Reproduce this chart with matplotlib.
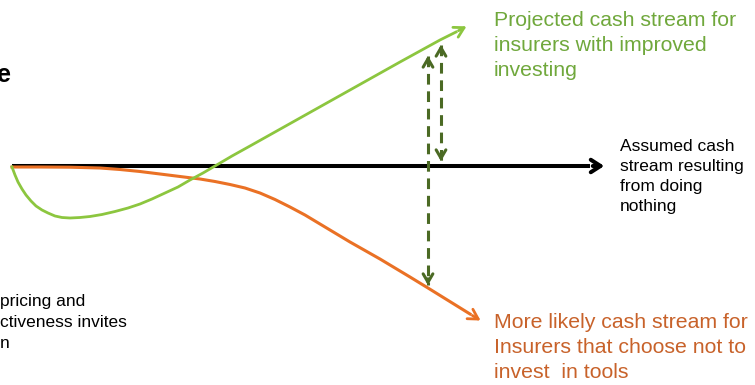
import matplotlib.pyplot as plt

plt.rcParams['font.family'] = ['Liberation Sans', 'DejaVu Sans']

# cash stream curves, x = time, y = screen-style position (down = worse)
improved_x = [12, 15, 18, 22, 26, 31, 36, 42, 48, 55, 62, 70, 80, 90, 102, 115, 128,
              140, 152, 165, 178, 190, 203, 215, 232, 250, 300, 350, 400, 440, 456]
improved_y = [167, 175, 182, 189, 195, 201, 206, 210, 213, 216, 217.5, 218, 217.5, 216.5,
              214.5, 211.5, 208, 204, 199, 193, 187, 180, 173, 166, 156, 146, 118, 90,
              62, 40, 32]
improved_tip = (469, 25)

no_invest_x = [12, 40, 70, 100, 120, 140, 160, 180, 200, 215, 230, 245, 260, 275, 290,
               305, 320, 335, 350, 365, 380, 395, 410, 428, 470]
no_invest_y = [167, 167, 167.2, 168, 169.5, 171.5, 174, 176.5, 179, 181.5, 184.5, 188,
               193, 199.5, 207, 215, 224, 233, 242, 250.5, 259, 268, 277, 288, 314]
no_invest_tip = (483, 322)

baseline_x = [12, 590]
baseline_y = [166, 166]
baseline_tip = (607, 166)

# gap arrows: (x, top, bottom)
gaps = [(441, 42, 164), (428, 53, 288)]

GREEN_LINE = '#8CC63F'
GREEN_TEXT = '#70A83C'
ORANGE_LINE = '#EA7125'
ORANGE_TEXT = '#C8622A'
DARK_GREEN = '#4B6A24'

fig = plt.figure(figsize=(7.55, 3.85), dpi=100)
ax = fig.add_axes([0, 0, 1, 1])
ax.set_xlim(0, 755)
ax.set_ylim(385, 0)
ax.axis('off')

ax.plot(baseline_x, baseline_y, color='black', lw=2.9, solid_capstyle='butt', zorder=2)
ax.annotate('', xy=baseline_tip, xytext=(baseline_x[-1], baseline_y[-1]),
            arrowprops=dict(arrowstyle='->,head_length=0.7,head_width=0.45', color='black', lw=2.9))

ax.plot(no_invest_x, no_invest_y, color=ORANGE_LINE, lw=2.2, zorder=3)
ax.annotate('', xy=no_invest_tip, xytext=(no_invest_x[-1], no_invest_y[-1]),
            arrowprops=dict(arrowstyle='->,head_length=0.7,head_width=0.4', color=ORANGE_LINE, lw=2.0))

ax.plot(improved_x, improved_y, color=GREEN_LINE, lw=2.0, zorder=4)
ax.annotate('', xy=improved_tip, xytext=(improved_x[-1], improved_y[-1]),
            arrowprops=dict(arrowstyle='->,head_length=0.7,head_width=0.4', color=GREEN_LINE, lw=2.0))

for gx, top, bottom in gaps:
    ax.plot([gx, gx], [top + 3, bottom - 3], color=DARK_GREEN, lw=2.2,
            dashes=(3.5, 2.2), zorder=5)
    for tip, start in ((top, top + 12), (bottom, bottom - 12)):
        ax.annotate('', xy=(gx, tip), xytext=(gx, start),
                    arrowprops=dict(arrowstyle='->,head_length=0.6,head_width=0.35',
                                    color=DARK_GREEN, lw=2.2))

ax.text(494, 11, 'Projected cash stream for\ninsurers with improved\ninvesting',
        color=GREEN_TEXT, fontsize=15.3, va='top', ha='left', linespacing=1.4)
ax.text(494, 313, 'More likely cash stream for\nInsurers that choose not to\ninvest  in tools',
        color=ORANGE_TEXT, fontsize=15.3, va='top', ha='left', linespacing=1.4)
ax.text(620, 139, 'Assumed cash\nstream resulting\nfrom doing\nnothing',
        color='black', fontsize=12.5, va='top', ha='left', linespacing=1.42)
ax.text(0, 294, 'pricing and\nctiveness invites\nn',
        color='black', fontsize=12.5, va='top', ha='left', linespacing=1.5)
ax.text(11, 82, 'e', color='black', fontsize=18, fontweight='bold', ha='right', va='baseline')

fig.savefig('out.png', dpi=100)
